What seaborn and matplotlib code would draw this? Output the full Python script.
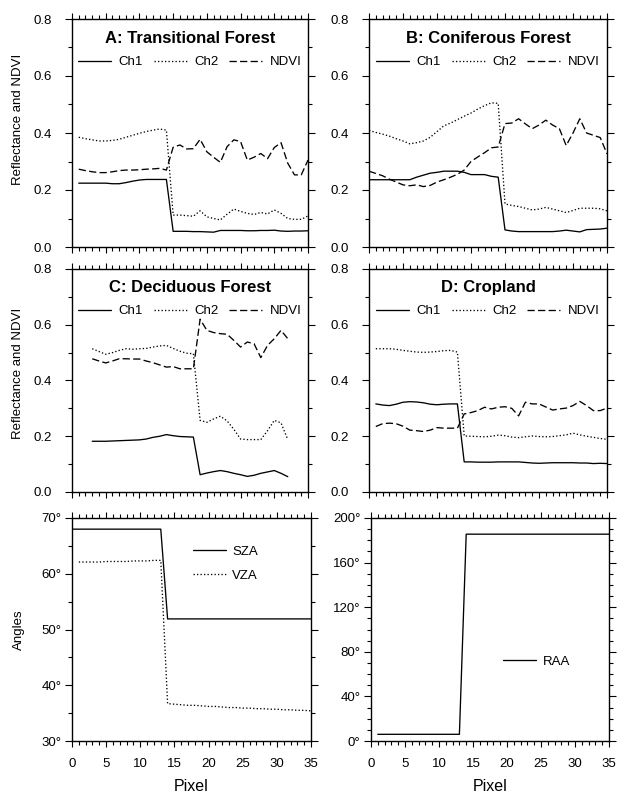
import matplotlib
matplotlib.use("Agg")
import matplotlib.pyplot as plt
import seaborn as sns
from matplotlib.ticker import MultipleLocator, FuncFormatter

# ---------------- data ----------------
# Panel A: Transitional Forest
px_a = [1, 2, 3, 4, 5, 6, 7, 8, 9, 10, 11, 12, 13, 14, 15, 16, 17, 18, 19, 20, 21, 22, 23, 24, 25,
        26, 27, 28, 29, 30, 31, 32, 33, 34, 35]
ch1_a = [0.224, 0.224, 0.224, 0.224, 0.224, 0.222, 0.222, 0.226, 0.231, 0.235, 0.237, 0.237, 0.237, 0.237,
         0.055, 0.055, 0.055, 0.054, 0.054, 0.053, 0.052, 0.058, 0.058, 0.058, 0.058, 0.057, 0.057, 0.058,
         0.058, 0.059, 0.056, 0.055, 0.056, 0.056, 0.057]
ch2_a = [0.385, 0.380, 0.376, 0.372, 0.372, 0.374, 0.378, 0.385, 0.392, 0.399, 0.405, 0.410, 0.414, 0.410,
         0.112, 0.112, 0.110, 0.108, 0.127, 0.106, 0.100, 0.095, 0.115, 0.133, 0.125, 0.118, 0.114, 0.121,
         0.116, 0.130, 0.118, 0.100, 0.097, 0.097, 0.109]
ndvi_a = [0.273, 0.268, 0.264, 0.261, 0.261, 0.264, 0.268, 0.270, 0.270, 0.271, 0.273, 0.274, 0.276, 0.270,
          0.350, 0.358, 0.344, 0.345, 0.378, 0.334, 0.315, 0.297, 0.352, 0.376, 0.370, 0.305, 0.315, 0.328,
          0.310, 0.349, 0.366, 0.294, 0.253, 0.253, 0.305]

# Panel B: Coniferous Forest
px_b = [0, 1, 2, 3, 4, 5, 6, 7, 8, 9, 10, 11, 12, 13, 14, 15, 16, 17, 18, 19, 20, 21, 22, 23, 24, 25,
        26, 27, 28, 29, 30, 31, 32, 33, 34, 35]
ch1_b = [0.236, 0.236, 0.236, 0.236, 0.236, 0.236, 0.236, 0.245, 0.252, 0.259, 0.262, 0.266, 0.266, 0.266,
         0.262, 0.254, 0.254, 0.254, 0.248, 0.245,
         0.060, 0.056, 0.054, 0.054, 0.054, 0.054, 0.054, 0.054, 0.056, 0.059, 0.056, 0.053, 0.061, 0.062,
         0.063, 0.066]
ch2_b = [0.409, 0.402, 0.396, 0.389, 0.380, 0.372, 0.362, 0.366, 0.372, 0.385, 0.405, 0.425, 0.435, 0.447,
         0.459, 0.470, 0.484, 0.496, 0.506, 0.504,
         0.151, 0.146, 0.142, 0.136, 0.130, 0.133, 0.139, 0.133, 0.127, 0.121, 0.128, 0.136, 0.136, 0.136,
         0.134, 0.127]
ndvi_b = [0.266, 0.258, 0.250, 0.238, 0.228, 0.218, 0.215, 0.218, 0.212, 0.216, 0.228, 0.236, 0.245, 0.255,
          0.270, 0.300, 0.316, 0.331, 0.348, 0.351,
          0.433, 0.435, 0.450, 0.432, 0.415, 0.428, 0.445, 0.428, 0.415, 0.356, 0.400, 0.450, 0.400, 0.392,
          0.384, 0.327]

# Panel C: Deciduous Forest
px_c = [3, 4, 5, 6, 7, 8, 9, 10, 11, 12, 13, 14, 15, 16, 17, 18, 19, 20, 21, 22, 23, 24, 25, 26, 27,
        28, 29, 30, 31, 32]
ch1_c = [0.182, 0.182, 0.182, 0.183, 0.184, 0.185, 0.186, 0.187, 0.190, 0.196, 0.200, 0.206, 0.202, 0.199,
         0.198, 0.197,
         0.062, 0.068, 0.073, 0.077, 0.073, 0.067, 0.062, 0.056, 0.060, 0.067, 0.072, 0.077, 0.067, 0.055]
ch2_c = [0.514, 0.504, 0.494, 0.500, 0.508, 0.514, 0.512, 0.514, 0.515, 0.520, 0.524, 0.526, 0.515, 0.505,
         0.498, 0.496,
         0.257, 0.250, 0.262, 0.272, 0.255, 0.225, 0.190, 0.188, 0.188, 0.188, 0.220, 0.257, 0.248, 0.188]
ndvi_c = [0.478, 0.470, 0.463, 0.470, 0.478, 0.478, 0.477, 0.477, 0.470, 0.464, 0.456, 0.448, 0.450, 0.442,
          0.442, 0.442,
          0.620, 0.580, 0.572, 0.568, 0.566, 0.544, 0.520, 0.538, 0.532, 0.482, 0.526, 0.550, 0.580, 0.550]

# Panel D: Cropland
px_d = [1, 2, 3, 4, 5, 6, 7, 8, 9, 10, 11, 12, 13, 14, 15, 16, 17, 18, 19, 20, 21, 22, 23, 24, 25,
        26, 27, 28, 29, 30, 31, 32, 33, 34, 35]
ch1_d = [0.316, 0.312, 0.310, 0.315, 0.322, 0.324, 0.323, 0.320, 0.315, 0.313, 0.315, 0.316, 0.316,
         0.108, 0.108, 0.107, 0.107, 0.107, 0.108, 0.108, 0.108, 0.108, 0.106, 0.104, 0.103, 0.104, 0.105,
         0.105, 0.105, 0.105, 0.104, 0.104, 0.102, 0.103, 0.102]
ch2_d = [0.514, 0.514, 0.514, 0.512, 0.508, 0.505, 0.502, 0.501, 0.502, 0.504, 0.507, 0.508, 0.502,
         0.201, 0.200, 0.199, 0.198, 0.200, 0.204, 0.202, 0.197, 0.195, 0.198, 0.201, 0.199, 0.198, 0.199,
         0.202, 0.205, 0.211, 0.205, 0.200, 0.196, 0.192, 0.189]
ndvi_d = [0.235, 0.245, 0.247, 0.245, 0.236, 0.222, 0.220, 0.217, 0.222, 0.231, 0.229, 0.229, 0.229,
          0.280, 0.285, 0.292, 0.304, 0.298, 0.304, 0.306, 0.300, 0.273, 0.322, 0.316, 0.316, 0.305, 0.294,
          0.298, 0.301, 0.310, 0.325, 0.310, 0.292, 0.292, 0.301]

# Angles
px_sza = [0, 1, 2, 3, 4, 5, 6, 7, 8, 9, 10, 11, 12, 13, 14, 15, 16, 17, 18, 19, 20, 21, 22, 23, 24, 25,
          26, 27, 28, 29, 30, 31, 32, 33, 34, 35]
sza = [68.0, 68.0, 68.0, 68.0, 68.0, 68.0, 68.0, 68.0, 68.0, 68.0, 68.0, 68.0, 68.0, 68.0,
       51.9, 51.9, 51.9, 51.9, 51.9, 51.9, 51.9, 51.9, 51.9, 51.9, 51.9, 51.9, 51.9, 51.9, 51.9, 51.9,
       51.9, 51.9, 51.9, 51.9, 51.9, 51.9]
px_vza = [1, 2, 3, 4, 5, 6, 7, 8, 9, 10, 11, 12, 13, 14, 15, 16, 17, 18, 19, 20, 21, 22, 23, 24, 25,
          26, 27, 28, 29, 30, 31, 32, 33, 34, 35]
vza = [62.1, 62.1, 62.1, 62.1, 62.2, 62.2, 62.2, 62.2, 62.3, 62.3, 62.3, 62.4, 62.4,
       36.7, 36.6, 36.5, 36.4, 36.4, 36.3, 36.2, 36.2, 36.1, 36.0, 36.0, 35.9, 35.9, 35.8, 35.8, 35.7,
       35.7, 35.6, 35.6, 35.5, 35.5, 35.4]
px_raa = [1, 2, 3, 4, 5, 6, 7, 8, 9, 10, 11, 12, 13, 14, 15, 16, 17, 18, 19, 20, 21, 22, 23, 24, 25,
          26, 27, 28, 29, 30, 31, 32, 33, 34, 35]
raa = [6.0, 6.0, 6.0, 6.0, 6.0, 6.0, 6.0, 6.0, 6.0, 6.0, 6.0, 6.0, 6.0,
       185.5, 185.5, 185.5, 185.5, 185.5, 185.5, 185.5, 185.5, 185.5, 185.5, 185.5, 185.5, 185.5, 185.5,
       185.5, 185.5, 185.5, 185.5, 185.5, 185.5, 185.5, 185.5]

titles = ["A: Transitional Forest", "B: Coniferous Forest", "C: Deciduous Forest", "D: Cropland"]
series_names = ["Ch1", "Ch2", "NDVI"]

# ---------------- style ----------------
sns.set_theme(style="ticks")
plt.rcParams["font.family"] = ["Liberation Sans", "DejaVu Sans"]
plt.rcParams.update({
    "text.color": "black",
    "axes.labelcolor": "black",
    "axes.linewidth": 1.0,
    "axes.edgecolor": "black",
    "xtick.color": "black",
    "ytick.color": "black",
    "xtick.labelcolor": "black",
    "ytick.labelcolor": "black",
    "legend.labelcolor": "black",
    "xtick.major.size": 4, "xtick.minor.size": 3.2,
    "ytick.major.size": 5.2, "ytick.minor.size": 3,
    "xtick.major.width": 0.8, "xtick.minor.width": 0.8,
    "ytick.major.width": 0.8, "ytick.minor.width": 0.8,
    "xtick.labelsize": 9.5, "ytick.labelsize": 9.5,
})

fig = plt.figure(figsize=(6.18, 7.95), dpi=100)
W, H = 618.0, 795.0


def add_ax(left, top, right, bottom):
    return fig.add_axes([left / W, 1 - bottom / H, (right - left) / W, (bottom - top) / H])


axA = add_ax(72, 19, 308, 247)
axB = add_ax(369, 19, 607, 247)
axC = add_ax(72, 269, 308, 492)
axD = add_ax(369, 269, 607, 492)
axE = add_ax(72, 518, 311, 741)
axF = add_ax(371, 518, 609, 741)

LW = 0.95
DASH = (0, (5.5, 2.5))


def style_axis(ax, bottom_labels, ypad):
    ax.set_xlim(0, 35)
    ax.xaxis.set_major_locator(MultipleLocator(5))
    ax.xaxis.set_minor_locator(MultipleLocator(1))
    ax.tick_params(which="both", direction="out", top=True, right=True,
                   labelbottom=bottom_labels)
    ax.tick_params(axis="x", which="major", pad=8)
    ax.tick_params(axis="y", which="major", pad=ypad)
    for s in ax.spines.values():
        s.set_visible(True)
        s.set_color("black")


panels = [
    (axA, px_a, ch1_a, ch2_a, ndvi_a, titles[0]),
    (axB, px_b, ch1_b, ch2_b, ndvi_b, titles[1]),
    (axC, px_c, ch1_c, ch2_c, ndvi_c, titles[2]),
    (axD, px_d, ch1_d, ch2_d, ndvi_d, titles[3]),
]

for ax, x, c1, c2, nd, title in panels:
    sns.lineplot(x=x, y=c1, ax=ax, color="black", lw=LW, label=series_names[0], estimator=None)
    sns.lineplot(x=x, y=c2, ax=ax, color="black", lw=LW, linestyle=":", label=series_names[1],
                 estimator=None)
    sns.lineplot(x=x, y=nd, ax=ax, color="black", lw=LW, linestyle=DASH, label=series_names[2],
                 estimator=None)
    ax.set_ylim(0, 0.8)
    ax.yaxis.set_major_locator(MultipleLocator(0.2))
    ax.yaxis.set_minor_locator(MultipleLocator(0.1))
    ax.yaxis.set_major_formatter(FuncFormatter(lambda v, p: f"{v:.1f}"))
    style_axis(ax, False, 9)
    ax.set_xlabel("")
    ax.set_ylabel("")
    ax.text(0.5, 0.915, title, transform=ax.transAxes, ha="center", va="center",
            fontsize=12, fontweight="bold", color="black")
    ax.legend(loc="center", bbox_to_anchor=(0.5, 0.81), ncol=3, frameon=False,
              fontsize=9.5, handlelength=2.5, handletextpad=0.6, columnspacing=0.8,
              borderpad=0, borderaxespad=0)

axA.set_ylabel("Reflectance and NDVI", fontsize=9.5)
axA.yaxis.set_label_coords(-0.203, 0.56)
axC.set_ylabel("Reflectance and NDVI", fontsize=9.5)
axC.yaxis.set_label_coords(-0.203, 0.53)

# Angles panel (SZA, VZA)
sns.lineplot(x=px_sza, y=sza, ax=axE, color="black", lw=LW, label="SZA", estimator=None)
sns.lineplot(x=px_vza, y=vza, ax=axE, color="black", lw=LW, linestyle=":", label="VZA", estimator=None)
axE.set_ylim(30, 70)
axE.yaxis.set_major_locator(MultipleLocator(10))
axE.yaxis.set_minor_locator(MultipleLocator(5))
axE.yaxis.set_major_formatter(FuncFormatter(lambda v, p: f"{v:.0f}°"))
style_axis(axE, True, 2.5)
axE.legend(loc="center left", bbox_to_anchor=(0.505, 0.795), frameon=False, fontsize=9.5,
           handlelength=2.5, handletextpad=0.5, labelspacing=0.9, borderpad=0, borderaxespad=0)
axE.set_ylabel("Angles", fontsize=9.5)
axE.yaxis.set_label_coords(-0.197, 0.5)
axE.set_xlabel("Pixel", fontsize=11.5)
axE.xaxis.set_label_coords(0.5, -0.17)

# RAA panel
sns.lineplot(x=px_raa, y=raa, ax=axF, color="black", lw=LW, label="RAA", estimator=None)
axF.set_ylim(0, 200)
axF.yaxis.set_major_locator(MultipleLocator(40))
axF.yaxis.set_minor_locator(MultipleLocator(10))
axF.yaxis.set_major_formatter(FuncFormatter(lambda v, p: f"{v:.0f}°"))
style_axis(axF, True, 2.5)
axF.legend(loc="center left", bbox_to_anchor=(0.555, 0.355), frameon=False, fontsize=9.5,
           handlelength=2.5, handletextpad=0.5, borderpad=0, borderaxespad=0)
axF.set_ylabel("")
axF.set_xlabel("Pixel", fontsize=11.5)
axF.xaxis.set_label_coords(0.5, -0.17)

fig.savefig("out.png", dpi=100, facecolor="white")
